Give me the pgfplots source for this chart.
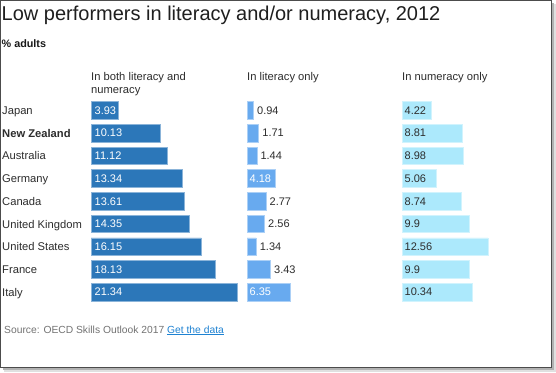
\documentclass[border=0pt]{standalone}
\usepackage{pgfplots}
\usepackage{pgfplotstable}
\pgfplotsset{compat=1.18}
\usepackage{fontspec}
\setmainfont{Liberation Sans}
\definecolor{cA}{RGB}{44,119,185}
\definecolor{cB}{RGB}{104,170,239}
\definecolor{cC}{RGB}{172,233,252}
\definecolor{txt}{RGB}{45,45,45}
\definecolor{src}{RGB}{115,115,115}
\definecolor{lnk}{RGB}{30,130,210}

\pgfplotstableread{
row both lit num
0 3.93 0.94 4.22
1 10.13 1.71 8.81
2 11.12 1.44 8.98
3 13.34 4.18 5.06
4 13.61 2.77 8.74
5 14.35 2.56 9.9
6 16.15 1.34 12.56
7 18.13 3.43 9.9
8 21.34 6.35 10.34
}\data

\begin{document}
\begin{tikzpicture}[x=1pt,y=1pt]
\useasboundingbox (0,0) rectangle (556,-372);
% frame with shadow
\fill[black!12] (4,-4) rectangle (556,-372);
\fill[black!30] (2.5,-2.5) rectangle (554,-370);
\fill[white,draw=black!70,line width=0.8pt] (0.4,-0.4) rectangle (551.5,-367.5);

\node[anchor=base west, inner sep=0, text=black!88, font=\fontsize{20}{24}\selectfont] at (1.5,-20.3) {Low performers in literacy and/or numeracy, 2012};
\node[anchor=base west, inner sep=0, text=black!90, font=\bfseries\fontsize{10.8}{13}\selectfont] at (1.5,-47) {\% adults};

\begin{scope}[every node/.style={anchor=base west, inner sep=0, text=txt, font=\fontsize{11.2}{14}\selectfont}]
\node at (91,-80.7) {In both literacy and};
\node at (91,-93.4) {numeracy};
\node at (247,-80.7) {In literacy only};
\node at (402,-80.7) {In numeracy only};
\foreach \n [count=\i from 0] in {Japan,{\bfseries New Zealand},Australia,Germany,Canada,United Kingdom,United States,France,Italy}{
  \node at (2,{-(110.5+22.7*\i+4)}) {\n};
}
\end{scope}

\pgfplotsset{
  panel/.style={anchor=north west, x=6.84pt, y=22.7pt, y dir=reverse,
    xmin=0, ymin=-0.5, ymax=8.5, hide axis, clip=false},
  barstyle/.style={xbar, bar width=17.6pt, bar shift=0pt, line width=0.7pt},
  lab/.style={draw=none, mark=none, nodes near coords, point meta=explicit symbolic,
    nodes near coords align={anchor=west},
    every node near coord/.append style={inner sep=0, font=\fontsize{11}{13}\selectfont}},
}

\begin{axis}[panel, at={(91pt,-99.15pt)}, xmax=22]
\addplot[barstyle, fill=cA, draw=cA!55!white] table[x=both, y=row] {\data};
\addplot[lab, every node near coord/.append style={text=white, xshift=3.5pt}] table[x expr=0, y=row, meta=both] {\data};
\end{axis}

\begin{axis}[panel, at={(247pt,-99.15pt)}, xmax=7]
\addplot[barstyle, fill=cB, draw=cB!55!white] table[x=lit, y=row] {\data};
\begin{scope}[every node/.style={anchor=west, inner sep=0, font=\fontsize{11}{13}\selectfont}]
\node[text=txt] at (axis cs:0.94,0) [xshift=3.5pt] {0.94};
\node[text=txt] at (axis cs:1.71,1) [xshift=3.5pt] {1.71};
\node[text=txt] at (axis cs:1.44,2) [xshift=3.5pt] {1.44};
\node[text=white] at (axis cs:0,3) [xshift=2.5pt] {4.18};
\node[text=txt] at (axis cs:2.77,4) [xshift=3.5pt] {2.77};
\node[text=txt] at (axis cs:2.56,5) [xshift=3.5pt] {2.56};
\node[text=txt] at (axis cs:1.34,6) [xshift=3.5pt] {1.34};
\node[text=txt] at (axis cs:3.43,7) [xshift=3.5pt] {3.43};
\node[text=white] at (axis cs:0,8) [xshift=2.5pt] {6.35};
\end{scope}
\end{axis}

\begin{axis}[panel, at={(402pt,-99.15pt)}, xmax=13]
\addplot[barstyle, fill=cC, draw=cC!55!white] table[x=num, y=row] {\data};
\addplot[lab, every node near coord/.append style={text=txt, xshift=2.5pt}] table[x expr=0, y=row, meta=num] {\data};
\end{axis}

\node[anchor=base west, inner sep=0, text=src, font=\fontsize{10.3}{12}\selectfont] at (4,-333) {Source: OECD Skills Outlook 2017 \textcolor{lnk}{\underline{Get the data}}};
\end{tikzpicture}
\end{document}
